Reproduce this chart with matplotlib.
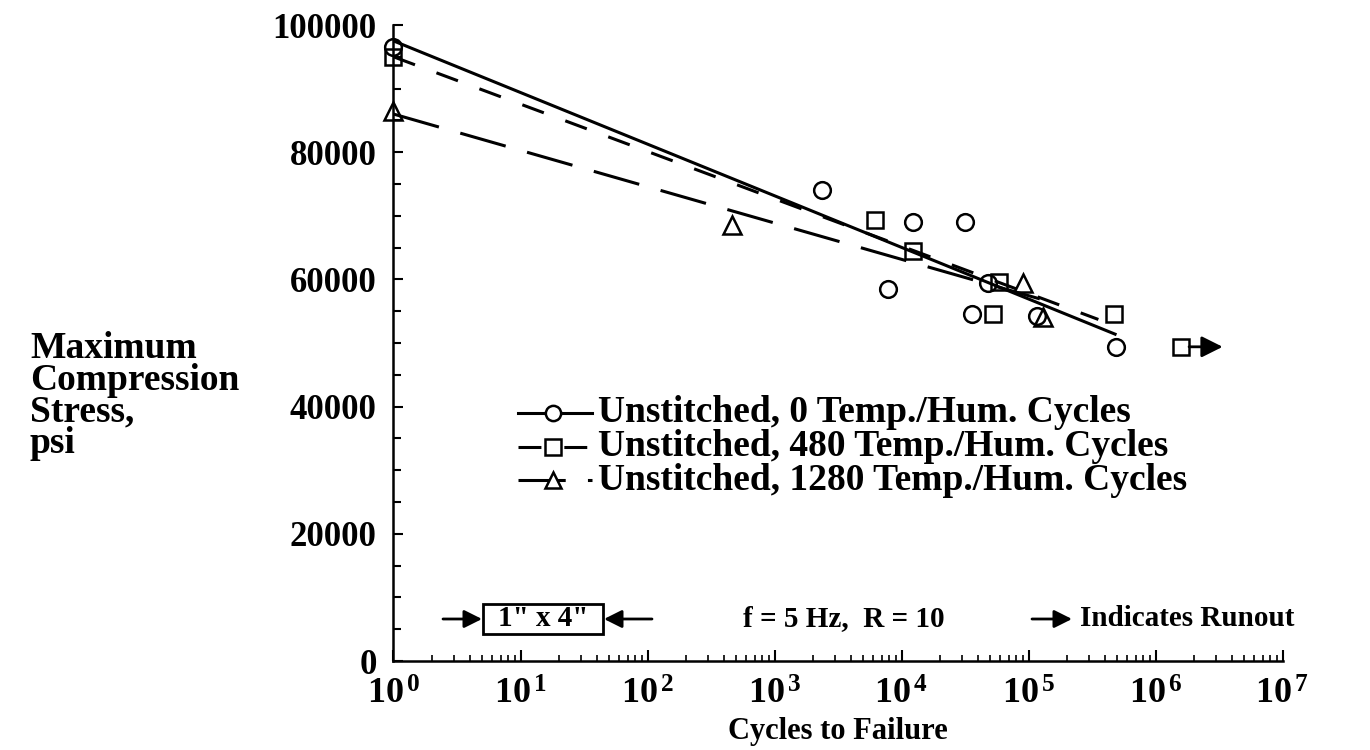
import math

import matplotlib
matplotlib.use("Agg")
import matplotlib.pyplot as plt
from matplotlib.lines import Line2D
from matplotlib.patches import Rectangle
from matplotlib.ticker import FixedLocator, FuncFormatter, LogLocator, MultipleLocator, NullFormatter

# ---- data ----
cycles_0 = [1, 2370, 7900, 12250, 31600, 48000, 35600, 116700, 493000]
stress_0 = [96500, 74000, 58500, 69000, 69000, 59500, 54500, 54300, 49400]

cycles_480 = [1, 6200, 12400, 58600, 52100, 467000]
stress_480 = [95000, 69300, 64500, 59600, 54500, 54500]
runout_480_cycles = [1580000]
runout_480_stress = [49400]

cycles_1280 = [1, 460, 90500, 130000]
stress_1280 = [86500, 68500, 59400, 54100]

# fitted S-N lines (end points)
fit_0_x = [1, 493000]
fit_0_y = [97500, 51300]
fit_480_x = [1, 355000]
fit_480_y = [95000, 53700]
fit_1280_x = [1, 135000]
fit_1280_y = [86000, 56700]

labels = [
    "Unstitched, 0 Temp./Hum. Cycles",
    "Unstitched, 480 Temp./Hum. Cycles",
    "Unstitched, 1280 Temp./Hum. Cycles",
]

W, H = 1370, 750
plt.rcParams.update(
    {
        "font.family": "Liberation Serif",
        "font.weight": "bold",
        "mathtext.fontset": "custom",
        "mathtext.rm": "Liberation Serif:bold",
        "mathtext.it": "Liberation Serif:bold",
        "mathtext.bf": "Liberation Serif:bold",
        "lines.scale_dashes": False,
    }
)

LW = 2.2
SHORT = (0, (16.5, 16.5))
LONG = (0, (34, 16))
MEW = 1.8


def fx(px):
    return px / W


def fy(py):
    return 1 - py / H


fig = plt.figure(figsize=(W / 100, H / 100), dpi=100)
fig.patch.set_facecolor("white")
x0, x1, ytop, ybot = 393.5, 1282.5, 25, 661
ax = fig.add_axes([fx(x0), fy(ybot), (x1 - x0) / W, (ybot - ytop) / H])

ax.set_xscale("log")
ax.set_xlim(1, 1e7)
ax.set_ylim(0, 100000)

# fit lines
ax.plot(fit_0_x, fit_0_y, color="black", lw=LW, solid_capstyle="butt")
ax.plot(fit_480_x, fit_480_y, color="black", lw=LW, linestyle=SHORT)
ax.plot(fit_1280_x, fit_1280_y, color="black", lw=LW, linestyle=LONG)

mk = dict(linestyle="none", mfc="none", mec="black", mew=MEW, clip_on=False, zorder=4)
ax.plot(cycles_0, stress_0, marker="o", ms=12, **mk)
ax.plot(cycles_480, stress_480, marker="s", ms=11, **mk)
ax.plot(cycles_1280, stress_1280, marker="^", ms=13, **mk)
ax.plot(runout_480_cycles, runout_480_stress, marker="s", ms=11, **mk)
for rx, ry in zip(runout_480_cycles, runout_480_stress):
    ax.annotate(
        "",
        xy=(rx * 10 ** 0.33, ry),
        xytext=(rx, ry),
        arrowprops=dict(arrowstyle="-|>", color="black", lw=2, mutation_scale=32, shrinkA=6, shrinkB=0),
    )

# axes styling
for side in ("top", "right"):
    ax.spines[side].set_visible(False)
for side in ("left", "bottom"):
    ax.spines[side].set_linewidth(1.8)

ax.yaxis.set_major_locator(MultipleLocator(20000))
ax.yaxis.set_minor_locator(MultipleLocator(5000))
ax.yaxis.set_major_formatter(FuncFormatter(lambda v, p: f"{int(v)}"))
ax.xaxis.set_major_locator(FixedLocator([10.0 ** k for k in range(8)]))
ax.xaxis.set_minor_locator(LogLocator(base=10, subs=range(2, 10), numticks=20))
ax.xaxis.set_minor_formatter(NullFormatter())
ax.xaxis.set_major_formatter(
    FuncFormatter(lambda v, p: r"$\mathregular{10^{\,%d}}$" % round(math.log10(v)))
)
ax.tick_params(axis="y", which="major", direction="in", length=7, width=1.5, labelsize=25, pad=12)
ax.tick_params(axis="y", which="minor", direction="in", length=6, width=1.5)
ax.tick_params(axis="x", which="major", direction="in", length=8, width=1.5, labelsize=26, pad=13)
ax.tick_params(axis="x", which="minor", direction="in", length=4, width=1.2)

fig.text(fx(838), fy(731), "Cycles to Failure", ha="center", va="center", fontsize=22)
fig.text(fx(30), fy(396), "Maximum\nCompression\nStress,\npsi", ha="left", va="center",
         fontsize=27, linespacing=0.88)

# legend drawn by hand to mimic the original
styles = [("o", "-"), ("s", SHORT), ("^", LONG)]
for i, ((m, ls), lab) in enumerate(zip(styles, labels)):
    yy = fy(413 + 33.5 * i)
    fig.add_artist(Line2D([fx(518), fx(592)], [yy, yy], color="black", lw=LW, linestyle=ls,
                          transform=fig.transFigure))
    fig.add_artist(Line2D([fx(553)], [yy], marker=m, ms=11, mfc="white", mec="black", mew=MEW,
                          transform=fig.transFigure))
    fig.text(fx(598), yy, lab, ha="left", va="center", fontsize=27)

# bottom annotations
ann_y = fy(619)
arrow = dict(arrowstyle="-|>", color="black", lw=2, mutation_scale=27, shrinkA=0, shrinkB=0)
fig.add_artist(Rectangle((fx(483), fy(634)), 120 / W, 30 / H, transform=fig.transFigure,
                         fill=False, ec="black", lw=2))
fig.text(fx(543), ann_y, "1\" x 4\"", ha="center", va="center", fontsize=21)
fig.add_artist(plt.Annotation("", xy=(fx(482), ann_y), xytext=(fx(443), ann_y),
                              xycoords="figure fraction", arrowprops=arrow))
fig.add_artist(plt.Annotation("", xy=(fx(604), ann_y), xytext=(fx(652), ann_y),
                              xycoords="figure fraction", arrowprops=arrow))
fig.text(fx(844), ann_y, "f = 5 Hz,  R = 10", ha="center", va="center", fontsize=21)
fig.add_artist(plt.Annotation("", xy=(fx(1072), ann_y), xytext=(fx(1032), ann_y),
                              xycoords="figure fraction", arrowprops=arrow))
fig.text(fx(1080), ann_y, "Indicates Runout", ha="left", va="center", fontsize=21)

fig.savefig("out.png", dpi=100)
